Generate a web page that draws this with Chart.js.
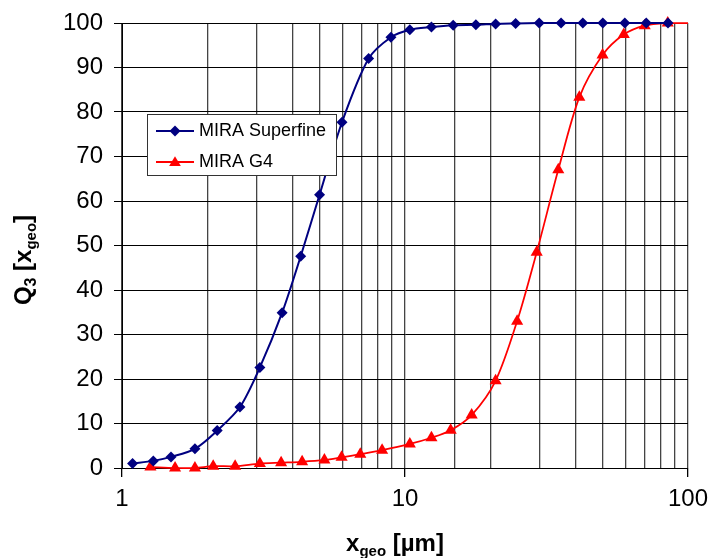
<!DOCTYPE html>
<html>
<head>
<meta charset="utf-8">
<script src="https://cdn.jsdelivr.net/npm/chart.js@4/dist/chart.umd.min.js"></script>
<style>
  html, body { margin: 0; padding: 0; background: #fff; }
  #wrap { width: 709px; height: 558px; }
</style>
</head>
<body>
<div id="wrap"><canvas id="chart" width="709" height="558"></canvas></div>
<script>
// DATA
const superfineX = [1.09, 1.29, 1.49, 1.81, 2.17, 2.61, 3.07, 3.68, 4.28, 4.99, 5.99, 7.44, 8.92, 10.4, 12.4, 14.8, 17.8, 20.9, 24.6, 29.8, 35.6, 42.5, 50.0, 59.8, 71.2, 85.0];
const superfineQ3 = [1.0, 1.6, 2.5, 4.3, 8.4, 13.7, 22.6, 34.9, 47.6, 61.4, 77.7, 92.0, 96.8, 98.5, 99.1, 99.5, 99.6, 99.8, 99.9, 100, 100, 100, 100, 100, 100, 100];

const g4X = [1.26, 1.54, 1.81, 2.10, 2.51, 3.07, 3.65, 4.33, 5.19, 5.97, 6.95, 8.30, 10.4, 12.4, 14.5, 17.2, 20.9, 24.9, 29.2, 34.8, 41.3, 49.9, 59.3, 70.3, 84.8, 100];
const g4Q3 = [0.2, 0, 0, 0.4, 0.4, 1.0, 1.2, 1.4, 1.8, 2.4, 3.1, 4.0, 5.4, 6.8, 8.5, 11.9, 19.6, 33.0, 48.5, 67.0, 83.3, 92.8, 97.4, 99.4, 100, 100];

const xLabels = [1, 10, 100];
const yMin = 0, yMax = 100, yStep = 10;

const seriesNames = ["MIRA Superfine", "MIRA G4"];

const FONT = "'Liberation Sans', Arial, sans-serif";
const BLUE = "#000080";
const RED = "#ff0000";

const toPoints = (xs, ys) => xs.map((x, i) => ({ x: x, y: ys[i] }));

// rich text with subscripts (bold), centred on cx
function drawRich(ctx, parts, cx, baseY) {
    let total = 0;
    parts.forEach(p => {
        ctx.font = "bold " + p.size + "px " + FONT;
        p.w = ctx.measureText(p.text).width;
        total += p.w;
    });
    let x = cx - total / 2;
    parts.forEach(p => {
        ctx.font = "bold " + p.size + "px " + FONT;
        ctx.fillText(p.text, x, baseY + (p.dy || 0));
        x += p.w;
    });
}

const axisTitles = {
    id: "axisTitles",
    afterDraw(chart) {
        const ctx = chart.ctx;
        ctx.save();
        ctx.fillStyle = "#000";
        ctx.textAlign = "left";
        ctx.textBaseline = "alphabetic";
        drawRich(ctx, [
            { text: "x", size: 24 },
            { text: "geo", size: 15, dy: 5 },
            { text: " [µm]", size: 24 }
        ], 395, 551);
        ctx.translate(31, 260);
        ctx.rotate(-Math.PI / 2);
        drawRich(ctx, [
            { text: "Q", size: 24 },
            { text: "3", size: 16, dy: 5 },
            { text: " [x", size: 24 },
            { text: "geo", size: 15, dy: 5 },
            { text: "]", size: 24 }
        ], 0, 0);
        ctx.restore();
    }
};

function marker(ctx, style, x, y, r) {
    ctx.beginPath();
    if (style === "rectRot") {
        ctx.moveTo(x, y - r); ctx.lineTo(x + r, y); ctx.lineTo(x, y + r); ctx.lineTo(x - r, y);
    } else {
        const h = r * 1.5;
        ctx.moveTo(x, y - h * 0.6); ctx.lineTo(x + r * 0.9, y + h * 0.4); ctx.lineTo(x - r * 0.9, y + h * 0.4);
    }
    ctx.closePath();
    ctx.fill();
}

const boxLegend = {
    id: "boxLegend",
    afterDraw(chart) {
        const ctx = chart.ctx;
        const bx = 147.5, by = 114.5, bw = 189, bh = 61;
        ctx.save();
        ctx.fillStyle = "#fff";
        ctx.fillRect(bx, by, bw, bh);
        ctx.strokeStyle = "#333";
        ctx.lineWidth = 1;
        ctx.strokeRect(bx, by, bw, bh);
        const rows = [
            { y: 131, color: BLUE, style: "rectRot", r: 5.5 },
            { y: 162, color: RED, style: "triangle", r: 6.5 }
        ];
        ctx.font = "18px " + FONT;
        ctx.textBaseline = "middle";
        ctx.textAlign = "left";
        rows.forEach((row, i) => {
            ctx.strokeStyle = row.color;
            ctx.fillStyle = row.color;
            ctx.lineWidth = 2;
            ctx.beginPath();
            ctx.moveTo(156, row.y);
            ctx.lineTo(194, row.y);
            ctx.stroke();
            marker(ctx, row.style, 175, row.y, row.r);
            ctx.fillStyle = "#000";
            ctx.fillText(seriesNames[i], 199, row.y);
        });
        ctx.restore();
    }
};

const hideEdge = r => ctx => (ctx.raw && ctx.raw.x >= 100 ? 0 : r);

new Chart(document.getElementById("chart"), {
    type: "scatter",
    data: {
        datasets: [{
            label: seriesNames[0],
            data: toPoints(superfineX, superfineQ3),
            showLine: true,
            borderColor: BLUE,
            backgroundColor: BLUE,
            borderWidth: 2,
            pointStyle: "rectRot",
            pointRadius: hideEdge(5.5),
            pointBorderWidth: 0,
            tension: 0.3,
            clip: false
        }, {
            label: seriesNames[1],
            data: toPoints(g4X, g4Q3),
            showLine: true,
            borderColor: RED,
            backgroundColor: RED,
            borderWidth: 1.75,
            pointStyle: "triangle",
            pointRadius: hideEdge(7),
            pointBorderWidth: 0,
            tension: 0.3,
            clip: false
        }]
    },
    options: {
        responsive: false,
        animation: false,
        layout: { padding: { top: 23, right: 21, left: 0, bottom: 0 } },
        plugins: {
            legend: { display: false },
            tooltip: { enabled: false }
        },
        scales: {
            x: {
                type: "logarithmic",
                min: 1,
                max: 100,
                afterFit: s => { s.height = 90; s.paddingLeft = 0; s.paddingRight = 0; },
                border: { color: "#000", width: 1 },
                grid: {
                    color: "#444",
                    lineWidth: 1.3,
                    tickLength: 9,
                    tickColor: ctx => (ctx.tick && xLabels.includes(ctx.tick.value) ? "#000" : "rgba(0,0,0,0)")
                },
                ticks: {
                    autoSkip: false,
                    maxRotation: 0,
                    padding: 8,
                    color: "#000",
                    font: { family: FONT, size: 24 },
                    callback: v => (xLabels.includes(v) ? String(v) : "")
                }
            },
            y: {
                min: yMin,
                max: yMax,
                afterFit: s => { s.width = 122; s.paddingTop = 0; s.paddingBottom = 0; },
                border: { color: "#000", width: 1 },
                grid: {
                    color: "#000",
                    lineWidth: 1,
                    tickLength: 8,
                    tickColor: "#000"
                },
                ticks: {
                    stepSize: yStep,
                    padding: 11,
                    color: "#000",
                    font: { family: FONT, size: 24 }
                }
            }
        }
    },
    plugins: [axisTitles, boxLegend]
});
</script>
</body>
</html>
